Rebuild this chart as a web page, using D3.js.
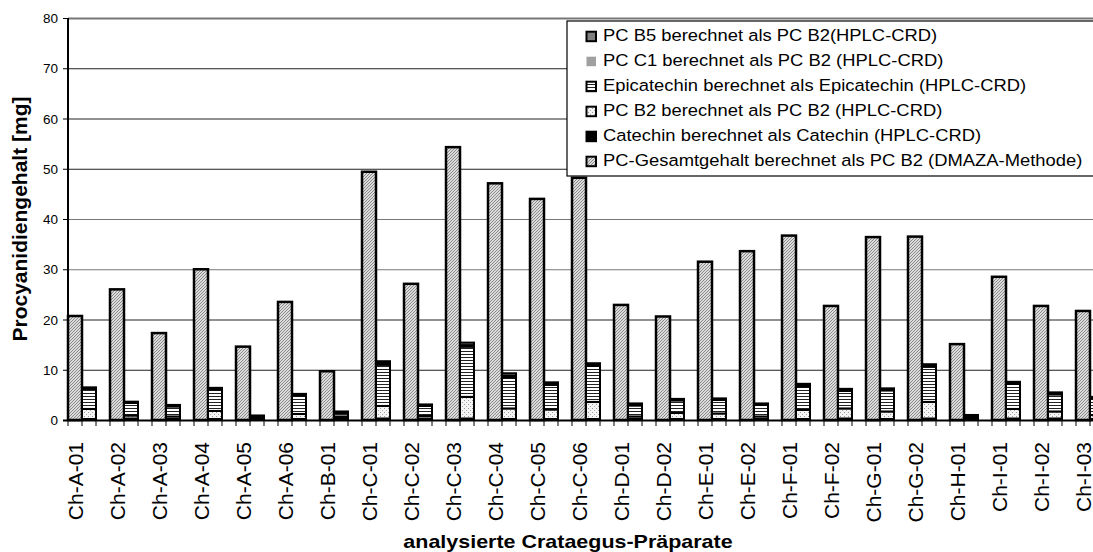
<!DOCTYPE html>
<html><head><meta charset="utf-8">
<script src="https://cdn.jsdelivr.net/npm/d3@7"></script>
<style>
body{margin:0;background:#fff;}
svg{display:block;font-family:Arial,"Liberation Sans",sans-serif;}
</style></head>
<body>
<svg id="chart" width="1093" height="552"></svg>
<script>
const categories = ["Ch-A-01","Ch-A-02","Ch-A-03","Ch-A-04","Ch-A-05","Ch-A-06","Ch-B-01","Ch-C-01","Ch-C-02","Ch-C-03","Ch-C-04","Ch-C-05","Ch-C-06","Ch-D-01","Ch-D-02","Ch-E-01","Ch-E-02","Ch-F-01","Ch-F-02","Ch-G-01","Ch-G-02","Ch-H-01","Ch-I-01","Ch-I-02","Ch-I-03"];
const totalDMAZA  = [20.7,26.0,17.3,30.0,14.6,23.5,9.7,49.4,27.1,54.3,47.1,44.0,48.2,22.9,20.6,31.5,33.6,36.7,22.7,36.4,36.5,15.1,28.5,22.7,21.7];
const catechin    = [0.2,0.3,0.2,0.2,0.6,0.2,0.3,0.3,0.3,0.3,0.2,0.2,0.2,0.2,0.2,0.2,0.2,0.2,0.3,0.2,0.3,0.7,0.3,0.3,0.2];
const pcB2        = [2.0,0.6,0.5,1.6,0.1,1.0,0.4,2.5,0.5,4.3,2.1,1.9,3.4,0.5,1.2,1.1,0.5,1.8,2.0,1.5,3.3,0.1,1.9,1.4,0.8];
const epicatechin = [4.0,2.5,2.0,4.3,0.1,3.7,0.7,8.2,2.0,10.0,6.2,4.9,7.2,2.2,2.5,2.7,2.3,4.7,3.5,4.2,7.0,0.1,5.0,3.4,3.3];
const pcC1        = [0.1,0.1,0.1,0.1,0.0,0.1,0.1,0.3,0.1,0.3,0.3,0.2,0.2,0.1,0.1,0.1,0.1,0.2,0.1,0.1,0.2,0.0,0.1,0.1,0.1];
const pcB5        = [0.2,0.15,0.2,0.2,0.1,0.2,0.2,0.4,0.2,0.5,0.5,0.3,0.3,0.3,0.2,0.2,0.2,0.3,0.3,0.3,0.3,0.1,0.3,0.3,0.2];
const yTicks = [0,10,20,30,40,50,60,70,80];
const legendLabels = ["PC B5 berechnet als PC B2(HPLC-CRD)","PC C1 berechnet als PC B2 (HPLC-CRD)","Epicatechin berechnet als Epicatechin (HPLC-CRD)","PC B2 berechnet als PC B2 (HPLC-CRD)","Catechin berechnet als Catechin (HPLC-CRD)","PC-Gesamtgehalt berechnet als PC B2 (DMAZA-Methode)"];
const yTitle = "Procyanidiengehalt [mg]";
const xTitle = "analysierte Crataegus-Präparate";

const svg = d3.select("#chart");
const x0 = 68, catW = 42, topY = 18, bottomY = 420;
const x = d3.scaleBand().domain(categories).range([x0, x0 + catW*categories.length]).padding(0);
const sub = d3.scaleBand().domain(["total","hplc","gap"]).range([0, x.bandwidth()]).padding(0);
const y = d3.scaleLinear().domain([0,80]).range([bottomY, topY]);

// patterns
const defs = svg.append("defs");
const ph = defs.append("pattern").attr("id","hatch").attr("patternUnits","userSpaceOnUse").attr("width",3).attr("height",3);
ph.append("rect").attr("width",3).attr("height",3).attr("fill","#dcdcdc");
ph.append("path").attr("d","M-1,1 L1,-1 M0,3 L3,0 M2,4 L4,2").attr("stroke","#808080").attr("stroke-width",0.9);
const pd = defs.append("pattern").attr("id","dots").attr("patternUnits","userSpaceOnUse").attr("width",4).attr("height",4);
pd.append("rect").attr("width",4).attr("height",4).attr("fill","#f4f4f4");
pd.append("rect").attr("x",0).attr("y",0).attr("width",1).attr("height",1).attr("fill","#999");
pd.append("rect").attr("x",2).attr("y",2).attr("width",1).attr("height",1).attr("fill","#aaa");
const pl = defs.append("pattern").attr("id","hlines").attr("patternUnits","userSpaceOnUse").attr("width",6).attr("height",3);
pl.append("rect").attr("width",6).attr("height",3).attr("fill","#fff");
pl.append("rect").attr("x",0).attr("y",0).attr("width",6).attr("height",1).attr("fill","#222");

// gridlines
svg.append("g").selectAll("line").data(yTicks.filter(d=>d>0)).join("line")
  .attr("x1",x0).attr("x2",1093).attr("y1",d=>y(d)+0.5).attr("y2",d=>y(d)+0.5)
  .attr("stroke",d=>(d===80||d===40||d===30)?"#777":"#222").attr("stroke-width",d=>(d===80)?2:1);

// bars: total
svg.append("g").selectAll("rect").data(categories).join("rect")
  .attr("x",(d)=>x(d)+sub("total")).attr("width",sub.bandwidth())
  .attr("y",(d,i)=>y(totalDMAZA[i])).attr("height",(d,i)=>y(0)-y(totalDMAZA[i]))
  .attr("fill","url(#hatch)").attr("stroke","#000").attr("stroke-width",2.5);

// stacked HPLC
const series = [
  {key:"catechin", vals:catechin, fill:"#000"},
  {key:"pcB2", vals:pcB2, fill:"url(#dots)"},
  {key:"epicatechin", vals:epicatechin, fill:"url(#hlines)"},
  {key:"pcC1", vals:pcC1, fill:"#a0a0a0"},
  {key:"pcB5", vals:pcB5, fill:"#808080"}
];
const rows = categories.map((c,i)=>{const r={cat:c}; series.forEach(s=>r[s.key]=s.vals[i]); return r;});
const stack = d3.stack().keys(series.map(s=>s.key))(rows);
const sg = svg.append("g");
stack.forEach((layer,li)=>{
  sg.append("g").selectAll("rect").data(layer).join("rect")
    .attr("x",d=>x(d.data.cat)+sub("hplc")).attr("width",sub.bandwidth())
    .attr("y",d=>y(d[1])).attr("height",d=>Math.max(0,y(d[0])-y(d[1])))
    .attr("fill",series[li].fill).attr("stroke","#000").attr("stroke-width",2);
});

// axes
const xa = svg.append("g").attr("transform",`translate(0,${bottomY})`);
const tickPos = [];
categories.forEach(c=>{["total","hplc","gap"].forEach(s=>tickPos.push(x(c)+sub(s)));});
xa.selectAll("line.t").data(tickPos).join("line").attr("class","t")
  .attr("x1",d=>d).attr("x2",d=>d).attr("y1",0).attr("y2",6).attr("stroke","#000").attr("stroke-width",1);
xa.append("line").attr("x1",x0-5).attr("x2",1093).attr("y1",0.5).attr("y2",0.5).attr("stroke","#000").attr("stroke-width",2);
xa.selectAll("text.l").data(categories).join("text").attr("class","l")
  .attr("transform",d=>`translate(${x(d)+sub("hplc")+1},22) rotate(-90)`)
  .attr("text-anchor","end").attr("font-size",21).attr("fill","#000").text(d=>d);

const ya = svg.append("g");
ya.append("line").attr("x1",x0).attr("x2",x0).attr("y1",topY).attr("y2",bottomY).attr("stroke","#000").attr("stroke-width",2);
ya.selectAll("line.t").data(yTicks).join("line").attr("class","t")
  .attr("x1",x0-5).attr("x2",x0).attr("y1",d=>y(d)+0.5).attr("y2",d=>y(d)+0.5).attr("stroke","#000");
ya.selectAll("text").data(yTicks).join("text")
  .attr("x",x0-10).attr("y",d=>y(d)+5).attr("text-anchor","end").attr("font-size",13.5).text(d=>d);

svg.append("text").attr("transform","translate(27,219) rotate(-90)").attr("text-anchor","middle")
  .attr("font-size",21).attr("font-weight","bold").text(yTitle);
svg.append("g").attr("transform","translate(568,548) scale(1.13,1)")
  .append("text").attr("x",0).attr("y",0).attr("text-anchor","middle")
  .attr("font-size",19).attr("font-weight","bold").text(xTitle);

// legend
const lg = svg.append("g");
lg.append("rect").attr("x",567).attr("y",21).attr("width",560).attr("height",155).attr("fill","#fff").attr("stroke","#000").attr("stroke-width",1.2);
const legFills = ["#808080","#a0a0a0","url(#hlines)","url(#dots)","#000","url(#hatch)"];
const legStroke = [true,false,true,true,true,true];
legendLabels.forEach((t,i)=>{
  const yy = 40.7 + i*25;
  lg.append("rect").attr("x",586.5).attr("y",yy-9).attr("width",9.5).attr("height",9.5)
    .attr("fill",legFills[i]).attr("stroke",legStroke[i]?"#000":"none").attr("stroke-width",2);
  lg.append("g").attr("transform",`translate(603,${yy}) scale(1.115,1)`)
    .append("text").attr("x",0).attr("y",0).attr("font-size",16.5).text(t);
});
</script>
</body></html>
